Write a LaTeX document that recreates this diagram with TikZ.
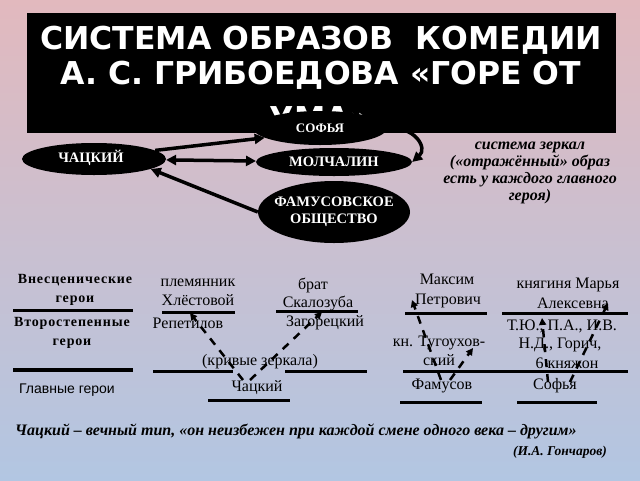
\documentclass[tikz,border=0pt]{standalone}
\usepackage{fontspec}
\setmainfont{Liberation Serif}
\newfontfamily\titlefont{DejaVu Sans}
\newfontfamily\sansfnt{Liberation Sans}
\usetikzlibrary{arrows.meta,shapes.geometric}
\definecolor{bgtop}{RGB}{226,185,190}
\definecolor{bgbot}{RGB}{178,198,226}
\begin{document}
\begin{tikzpicture}[x=1pt,y=-1pt,
  ell/.style={ellipse, fill=black, inner sep=0pt},
  elltxt/.style={text=white, font=\bfseries\fontsize{14.5}{17}\selectfont, align=center, inner sep=0pt},
  titletxt/.style={text=white, font=\titlefont\bfseries\fontsize{31.5}{32}\selectfont, inner sep=0pt, anchor=base},
  bigarrow/.style={line width=3.5pt, -{Triangle[length=10pt,width=10pt]}},
  dbigarrow/.style={line width=3.5pt, {Triangle[length=10pt,width=10pt]}-{Triangle[length=10pt,width=10pt]}},
  dasharrow/.style={line width=2.5pt, dash pattern=on 8pt off 7pt, -{Triangle[length=7pt,width=7pt]}},
  lbl/.style={font=\fontsize{16}{19}\selectfont, inner sep=0pt, align=center},
  lbold/.style={font=\bfseries\fontsize{14}{19}\selectfont\addfontfeature{LetterSpace=6}, inner sep=0pt, align=center},
  rulel/.style={line width=3pt},
]
\useasboundingbox (0,0) rectangle (640,480);
\shade[top color=bgtop, bottom color=bgbot] (0,0) rectangle (640,480);

% title
\node[fill=black, minimum width=589pt, minimum height=120pt, anchor=north west, inner sep=0pt] (titlebox) at (27,13) {};
\begin{scope}
\clip (27,13) rectangle (616,116);
\node[titletxt] (t1) at (321,49) {СИСТЕМА ОБРАЗОВ\ \ КОМЕДИИ};
\node[titletxt] (t2) at (321,84) {А. С. ГРИБОЕДОВА «ГОРЕ ОТ};
\node[titletxt] (t3) at (320,129) {УМА»};
\end{scope}

% ellipses
\node[ell, minimum width=134pt, minimum height=34pt] (sofia) at (320,128) {};
\node[elltxt, font=\bfseries\fontsize{13}{15}\selectfont] (sofiat) at (sofia) {СОФЬЯ};
\node[ell, minimum width=144pt, minimum height=32pt] (chatsky) at (94,159) {};
\node[elltxt] (chatskyt) at (91,158) {ЧАЦКИЙ};
\node[ell, minimum width=156pt, minimum height=28pt] (molch) at (334,162) {};
\node[elltxt] (molcht) at (molch) {МОЛЧАЛИН};
\node[ell, minimum width=152pt, minimum height=62pt] (fam) at (334,212) {};
\node[elltxt] (famt) at (fam) {ФАМУСОВСКОЕ\\ОБЩЕСТВО};

\draw[bigarrow] (chatsky.8) -- (sofia.190);
\draw[dbigarrow] (chatsky) -- (molch);
\draw[bigarrow] (fam.west) -- (chatsky.-10);
\draw[bigarrow] (sofia.east) .. controls (415,126) and (428,148) .. (molch.east);

% right note
\node[font=\bfseries\itshape\fontsize{16}{17}\selectfont, align=center, inner sep=0pt] (note) at (530,172.5)
  {система зеркал\\(«отражённый» образ\\есть у каждого главного\\героя)};

% left column
\node[lbold] (vnesc) at (75,290) {Внесценические\\герои};
\node[lbold] (vtor) at (72,333) {Второстепенные\\герои};
\node[font=\sansfnt\fontsize{14}{16}\selectfont, inner sep=0pt] (glav) at (67,390) {Главные герои};
\draw[rulel] (13,310) -- (133,310);
\draw[line width=4pt] (13,370) -- (133,370);

% middle
\node[lbl] (plem) at (198,292.5) {племянник\\Хлёстовой};
\node[lbl] (brat) at (313,285) {брат};
\node[lbl] (skal) at (318,303) {Скалозуба};
\node[lbl] (repet) at (188,323) {Репетилов};
\node[lbl] (zagor) at (325,323) {Загорецкий};
\node[lbl] (kriv) at (260,362) {(кривые зеркала)};
\node[lbl] (chb) at (257,388) {Чацкий};
\draw[rulel] (162,312) -- (235,312);
\draw[rulel] (276,311) -- (358,311);
\draw[rulel] (153,371) -- (233,371);
\draw[rulel] (285,371) -- (367,371);
\draw[rulel] (208,400) -- (290,400);

% right
\node[lbl] (maks) at (447,279) {Максим};
\node[lbl] (petr) at (448,301) {Петрович};
\node[lbl] (knyag) at (568,285) {княгиня Марья};
\node[lbl] (alex) at (573,303) {Алексевна};
\node[lbl] (tug) at (439,351) {кн. Тугоухов-\\ский};
\node[lbl] (tyu) at (562,326) {Т.Ю., П.А., И.В.};
\node[lbl] (nd) at (560,345) {Н.Д., Горич,};
\node[lbl] (knyazh) at (567,363) {6 княжон};
\node[lbl] (famb) at (442,386) {Фамусов};
\node[lbl] (sofb) at (555,386) {Софья};
\draw[rulel] (405,313) -- (487,313);
\draw[rulel] (502,313) -- (628,313);
\draw[rulel] (403,371) -- (628,371);
\draw[rulel] (400,402) -- (482,402);
\draw[rulel] (517,402) -- (597,402);

% dashed arrows
\coordinate (a1s) at (243,380); \coordinate (a1e) at (190,313);
\coordinate (a2s) at (250,380); \coordinate (a2e) at (322,312);
\coordinate (a3s) at (441,380); \coordinate (a3e) at (412,300);
\coordinate (a4s) at (450,380); \coordinate (a4e) at (473,348);
\coordinate (a5s) at (548,382); \coordinate (a5e) at (542,318);
\coordinate (a6s) at (570,382); \coordinate (a6e) at (608,303);
\draw[dasharrow] (a1s) -- (a1e);
\draw[dasharrow] (a2s) -- (a2e);
\draw[dasharrow] (a3s) -- (a3e);
\draw[dasharrow] (a4s) -- (a4e);
\draw[dasharrow] (a5s) -- (a5e);
\draw[dasharrow] (a6s) -- (a6e);

% quote
\node[font=\bfseries\itshape\fontsize{16}{18}\selectfont, inner sep=0pt, anchor=west] (quote) at (15,431)
  {Чацкий – вечный тип, «он неизбежен при каждой смене одного века – другим»};
\node[font=\bfseries\itshape\fontsize{13.5}{15}\selectfont, inner sep=0pt, anchor=east] (gonch) at (607,452)
  {(И.А. Гончаров)};
\end{tikzpicture}
\end{document}
